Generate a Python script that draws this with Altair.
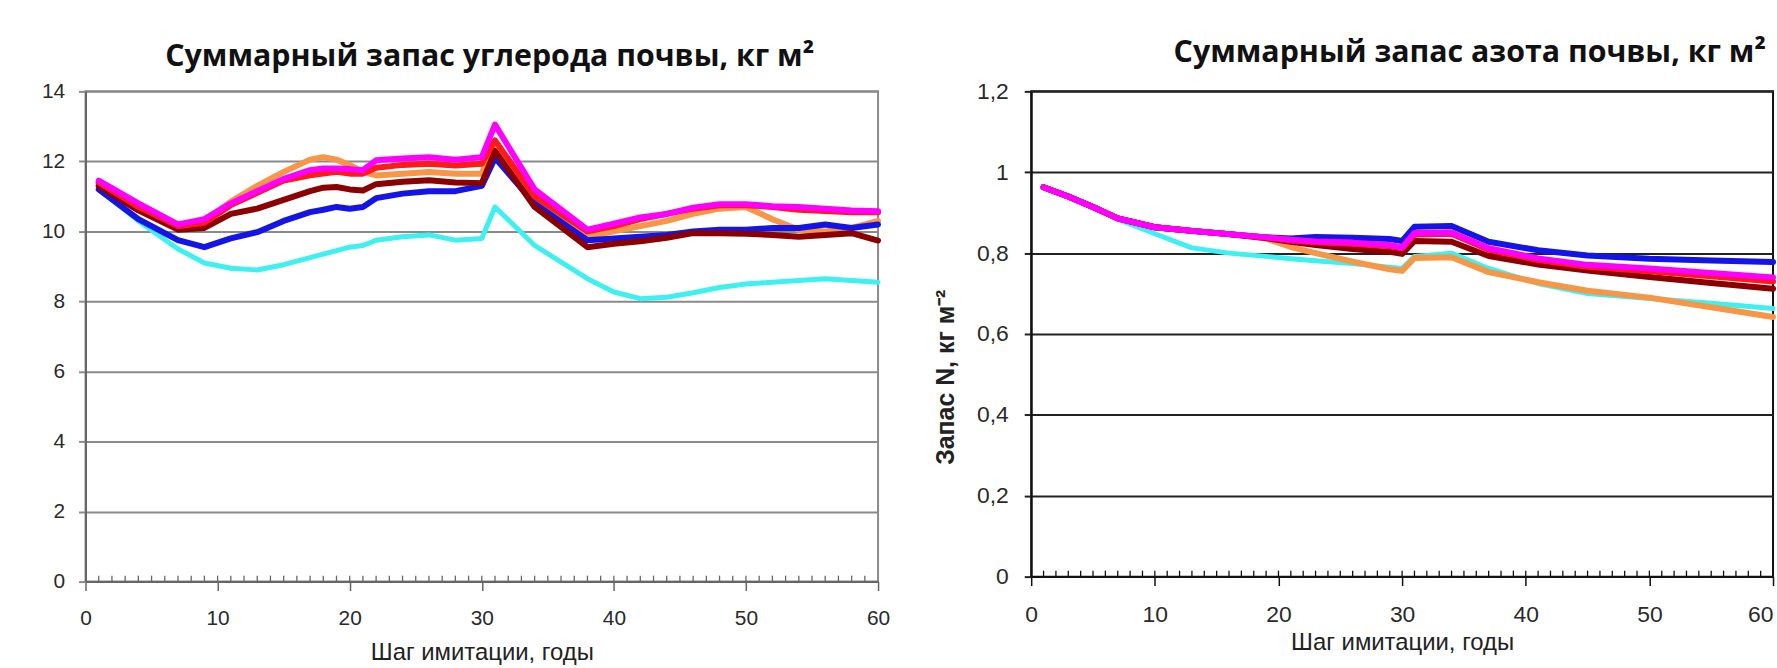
import altair as alt
import pandas as pd

# ---------------- data ----------------
SERIES = ["s1", "s2", "s3", "s4", "s5", "s6"]
COLORS = ["#3ef0f0", "#f79646", "#1414e6", "#8b0000", "#ff1a1a", "#ff00ff"]

# Carbon (left panel)
C_YEARS = [1, 4, 7, 9, 11, 13, 15, 17, 18, 19, 20, 21, 22, 24, 26, 28, 30, 31,
           34, 38, 40, 42, 44, 46, 48, 50, 52, 54, 56, 58, 60]
C_CYAN = [11.2, 10.3, 9.5, 9.1, 8.95, 8.9, 9.05, 9.25, 9.35, 9.45, 9.55, 9.6, 9.75, 9.85, 9.9, 9.75, 9.8, 10.7,
          9.6, 8.65, 8.27, 8.08, 8.12, 8.25, 8.4, 8.5, 8.55, 8.6, 8.65, 8.6, 8.55]
C_ORANGE = [11.35, 10.7, 10.15, 10.3, 10.85, 11.3, 11.7, 12.05, 12.12, 12.05, 11.9, 11.7, 11.6, 11.65, 11.7, 11.65, 11.65, 12.55,
            10.9, 9.85, 10.0, 10.15, 10.3, 10.5, 10.65, 10.7, 10.35, 10.05, 10.0, 10.1, 10.3]
C_BLUE = [11.2, 10.35, 9.75, 9.55, 9.8, 9.98, 10.3, 10.55, 10.62, 10.7, 10.65, 10.7, 10.95, 11.08, 11.15, 11.15, 11.3, 12.1,
          10.8, 9.75, 9.8, 9.85, 9.9, 10.0, 10.05, 10.05, 10.1, 10.1, 10.2, 10.1, 10.2]
C_MAROON = [11.3, 10.6, 10.05, 10.1, 10.5, 10.65, 10.9, 11.15, 11.25, 11.27, 11.2, 11.17, 11.35, 11.42, 11.46, 11.4, 11.38, 12.3,
            10.7, 9.55, 9.65, 9.72, 9.82, 9.95, 9.95, 9.93, 9.9, 9.85, 9.9, 9.95, 9.74]
C_RED = [11.4, 10.7, 10.15, 10.25, 10.75, 11.1, 11.45, 11.6, 11.65, 11.7, 11.65, 11.65, 11.82, 11.9, 11.93, 11.88, 11.93, 12.6,
         11.0, 10.0, 10.15, 10.35, 10.5, 10.65, 10.75, 10.75, 10.7, 10.62, 10.58, 10.55, 10.55]
C_MAGENTA = [11.45, 10.8, 10.2, 10.35, 10.8, 11.15, 11.5, 11.75, 11.8, 11.8, 11.78, 11.75, 12.03, 12.08, 12.12, 12.05, 12.12, 13.05,
             11.2, 10.05, 10.22, 10.4, 10.5, 10.68, 10.78, 10.78, 10.72, 10.7, 10.65, 10.6, 10.58]

# Nitrogen (right panel)
N_YEARS = [1, 3, 5, 7, 10, 13, 16, 19, 21, 23, 26, 29, 30, 31, 34, 37, 41, 45, 50, 55, 60]
N_CYAN = [0.963, 0.94, 0.914, 0.884, 0.848, 0.813, 0.80, 0.792, 0.786, 0.781, 0.774, 0.765, 0.762, 0.792,
          0.80, 0.762, 0.725, 0.70, 0.688, 0.676, 0.663]
N_ORANGE = [0.963, 0.94, 0.914, 0.886, 0.864, 0.855, 0.847, 0.836, 0.815, 0.80, 0.779, 0.76, 0.756, 0.788,
            0.79, 0.753, 0.728, 0.707, 0.69, 0.666, 0.642]
N_BLUE = [0.963, 0.94, 0.914, 0.886, 0.864, 0.855, 0.847, 0.839, 0.836, 0.84, 0.838, 0.835, 0.83, 0.865,
          0.867, 0.828, 0.807, 0.794, 0.786, 0.782, 0.778]
N_MAROON = [0.963, 0.94, 0.914, 0.886, 0.864, 0.855, 0.847, 0.837, 0.828, 0.82, 0.81, 0.803, 0.798, 0.83,
            0.828, 0.793, 0.772, 0.757, 0.741, 0.726, 0.712]
N_RED = [0.963, 0.94, 0.914, 0.886, 0.864, 0.855, 0.847, 0.839, 0.831, 0.827, 0.823, 0.817, 0.812, 0.846,
         0.848, 0.808, 0.783, 0.766, 0.755, 0.743, 0.73]
N_MAGENTA = [0.963, 0.94, 0.914, 0.886, 0.864, 0.855, 0.847, 0.839, 0.833, 0.829, 0.826, 0.82, 0.814, 0.85,
             0.851, 0.812, 0.787, 0.771, 0.762, 0.751, 0.74]

X_TICKS = [0, 10, 20, 30, 40, 50, 60]
MINOR_TICKS = list(range(1, 60))
C_YTICKS = [0, 2, 4, 6, 8, 10, 12, 14]
N_YTICKS = [0, 0.2, 0.4, 0.6, 0.8, 1.0, 1.2]

TITLE_C = "Суммарный запас углерода почвы, кг м²"
TITLE_N = "Суммарный запас азота почвы, кг м²"
X_TITLE = "Шаг имитации, годы"
Y_TITLE_N = "Запас N, кг м⁻²"


def long_df(years, cols):
    rows = []
    for s, vals in zip(SERIES, cols):
        for y, v in zip(years, vals):
            rows.append({"year": y, "value": v, "series": s})
    return pd.DataFrame(rows)


c_df = long_df(C_YEARS, [C_CYAN, C_ORANGE, C_BLUE, C_MAROON, C_RED, C_MAGENTA])
n_df = long_df(N_YEARS, [N_CYAN, N_ORANGE, N_BLUE, N_MAROON, N_RED, N_MAGENTA])
minor_df = pd.DataFrame({"year": MINOR_TICKS})

LABEL_FONT = "Liberation Sans"
TITLE_FONT = "Open Sans"


def panel(df, w, h, ydomain, yticks, grid_color, dom_color, label_size,
          y_axis_extent, y_label_pad, y_title, x_title_y, x_label_pad,
          title_text, title_dx, title_offset, view_color, flush_last,
          ytitle_x=None, ytitle_y=None):
    xscale = alt.Scale(domain=[0, 60], nice=False, zero=False)
    yscale = alt.Scale(domain=ydomain, nice=False)
    align_expr = "datum.value == 60 ? 'right' : 'center'" if flush_last else "'center'"
    xaxis = alt.Axis(values=X_TICKS, grid=False, domainColor=dom_color, domainWidth=2,
                     tickColor=dom_color, tickWidth=1.5, tickSize=9,
                     labelFont=LABEL_FONT, labelFontSize=label_size, labelColor="#2a2a2a",
                     labelPadding=x_label_pad, labelBaseline="alphabetic",
                     labelAlign=alt.ExprRef(expr=align_expr),
                     title=X_TITLE, titleFont=LABEL_FONT, titleFontSize=24, titleFontWeight="normal",
                     titleColor="#222222", titleY=x_title_y, titleBaseline="alphabetic")
    yargs = dict(values=yticks, grid=True, gridColor=grid_color, gridWidth=2,
                 domainColor=dom_color, domainWidth=2, tickColor=grid_color, tickWidth=2, tickSize=7,
                 labelFont=LABEL_FONT, labelFontSize=label_size, labelColor="#2a2a2a",
                 labelPadding=y_label_pad,
                 labelExpr="replace(format(datum.value, '~g'), '.', ',')",
                 minExtent=y_axis_extent, maxExtent=y_axis_extent)
    if y_title:
        yargs.update(title=y_title, titleFont=LABEL_FONT, titleFontSize=25, titleFontWeight="bold",
                     titleColor="#222222", titleX=ytitle_x, titleY=ytitle_y, titleBaseline="middle")
    else:
        yargs.update(title=None)
    yaxis = alt.Axis(**yargs)

    layers = []
    ticks = alt.Chart(minor_df).mark_rule(color=dom_color, strokeWidth=1.3).encode(
        x=alt.X("year:Q", scale=xscale, axis=xaxis),
        y=alt.value(h), y2=alt.value(h - 6))
    layers.append(ticks)
    for s, c in zip(SERIES, COLORS):
        sw = 5 if s == "s1" else 6
        layers.append(
            alt.Chart(df).transform_filter(alt.datum.series == s)
            .mark_line(color=c, strokeWidth=sw, strokeJoin="round", strokeCap="round")
            .encode(x=alt.X("year:Q", scale=xscale, axis=xaxis),
                    y=alt.Y("value:Q", scale=yscale, axis=yaxis))
        )
    return alt.layer(*layers).properties(
        width=w, height=h,
        view=alt.ViewBackground(stroke=view_color, strokeWidth=2, fill="white"),
        title=alt.TitleParams(text=title_text, font=TITLE_FONT, fontSize=30.5, fontWeight="bold",
                              color="#111111", anchor="middle", dx=title_dx, offset=title_offset,
                              baseline="alphabetic"),
    )


left = panel(c_df, 797, 493, [0, 14], C_YTICKS, "#8a8a8a", "#666666", 21,
             80, 14, None, 78, 34, TITLE_C, 8, -16, "#8a8a8a", False)
right = panel(n_df, 746, 488, [0, 1.2], N_YTICKS, "#222222", "#111111", 23,
              95, 16, Y_TITLE_N, 73, 36, TITLE_N, 68, -12, "#111111", True, -86, 287)

chart = alt.hconcat(left, right, spacing=42).configure(
    padding={"left": 5, "top": 35, "right": 0, "bottom": 0},
    background="white",
).configure_view(strokeWidth=0)

chart.save("out.html", embed_options={"renderer": "svg", "actions": False})
